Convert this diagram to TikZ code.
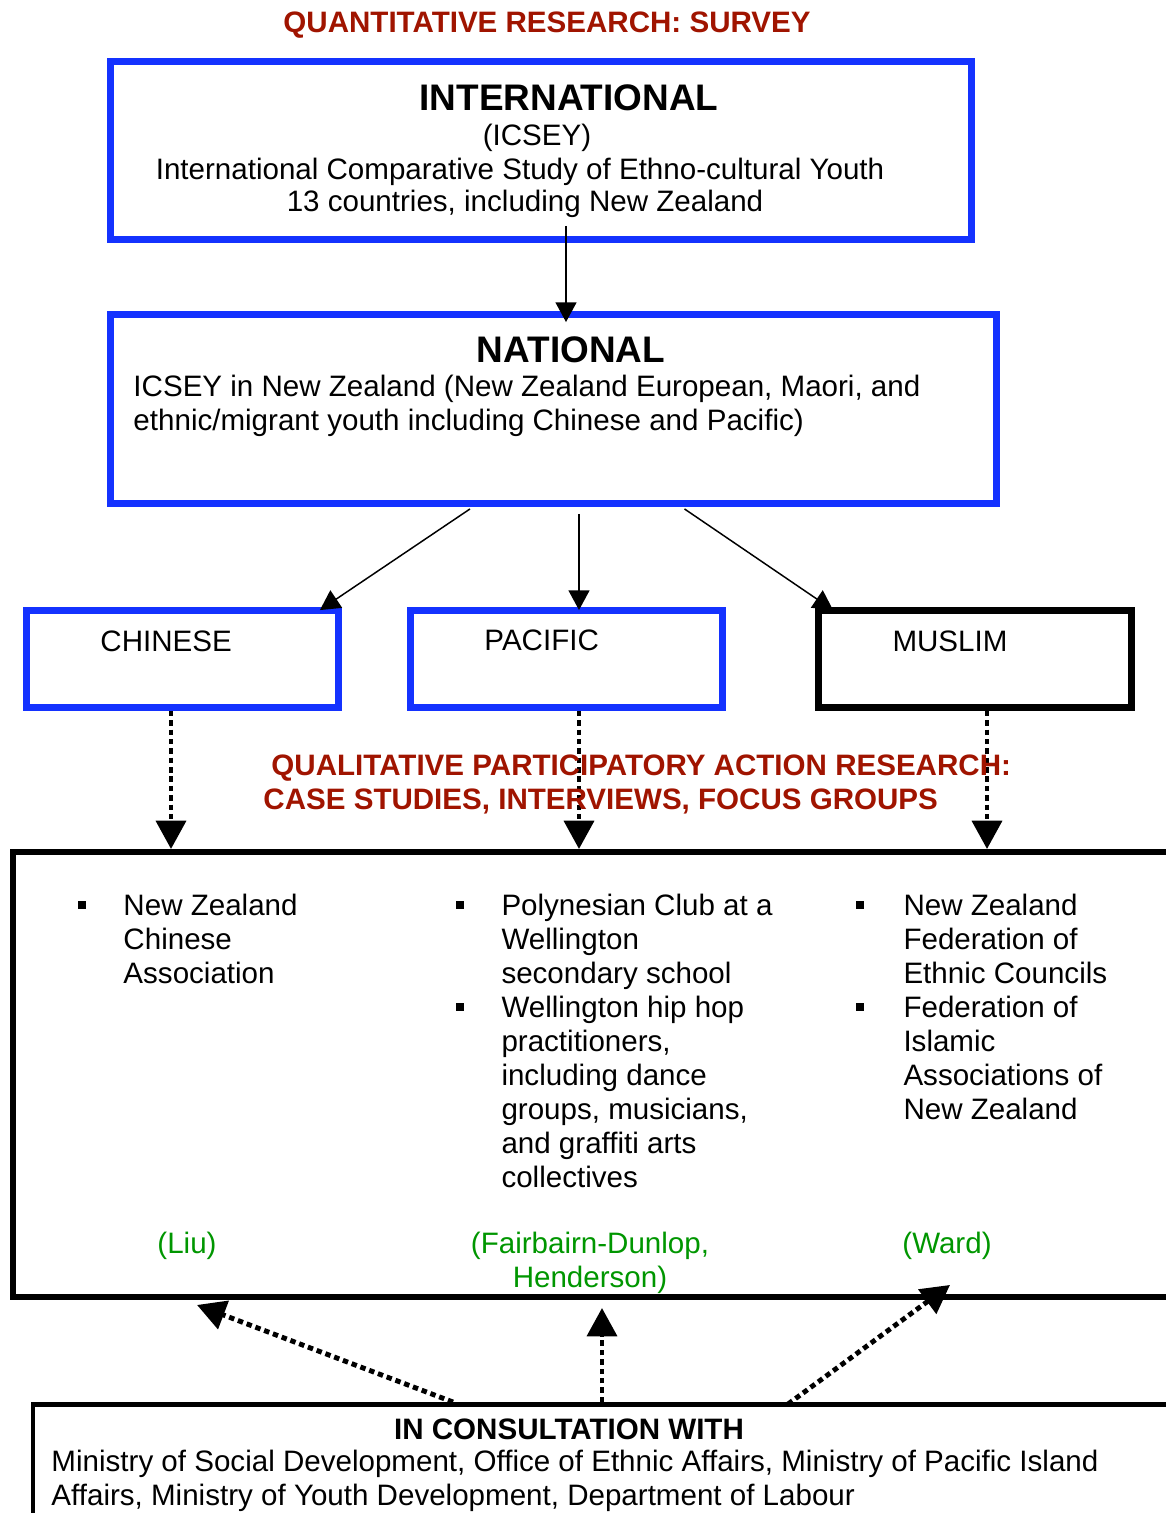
\documentclass[tikz,border=0pt]{standalone}
\usepackage{fontspec}
\setmainfont{Liberation Sans}
\usetikzlibrary{calc,arrows.meta}
\newlength\px
\setlength\px{0.406pt}
\definecolor{boxblue}{RGB}{20,50,255}
\definecolor{headred}{RGB}{160,20,0}
\definecolor{namegreen}{RGB}{0,150,0}

\begin{document}
\begin{tikzpicture}[x=0.406pt,y=-0.406pt,
	bluebox/.style={draw=boxblue,line width=3pt,inner sep=0pt},
	blackbox/.style={draw=black,line width=3pt,inner sep=0pt},
	body/.style={inner sep=0pt,font=\fontsize{12}{13.8}\selectfont,align=left},
	bigtitle/.style={inner sep=0pt,font=\fontsize{15}{18}\selectfont\bfseries},
	redhead/.style={inner sep=0pt,text=headred,font=\fontsize{12}{13.8}\selectfont\bfseries},
	author/.style={body,text=namegreen,align=center},
	bulletsq/.style={fill=black,inner sep=0pt,minimum size=3.2pt},
	thinarrow/.style={-{Triangle[length=8pt,width=8.5pt]},line width=0.6pt},
	dotarrow/.style={-{Triangle[length=11.5pt,width=12pt]},line width=2pt,dash pattern=on 2.2pt off 1.6pt}]
\useasboundingbox (0,0) rectangle (1166,1513);

                            	\node [redhead] (quant) at (547,25) {QUANTITATIVE RESEARCH: SURVEY};
% international / national
\node [bluebox,minimum width=860.5*\px,minimum height=177.5*\px] (intl) at (541,150.5) {};
                            	\node [bigtitle] (intltitle) at (569,98) {INTERNATIONAL};
                            	\node [body] (intlabbr) at (537,138) {(ICSEY)};
                            	\node [body] (intltext) at (520,172) {International Comparative Study of Ethno-cultural Youth};
                            	\node [body] (intlcount) at (525,204) {13 countries, including New Zealand};
\node [bluebox,minimum width=885.5*\px,minimum height=188.5*\px] (nat) at (553.5,409) {};
                            	\node [bigtitle] (nattitle) at (571,350) {NATIONAL};
                            	\node [body,anchor=west] (nattext) at (133,406) {ICSEY in New Zealand (New Zealand European, Maori, and\\ethnic/migrant youth including Chinese and Pacific)};
% groups
\node [bluebox,minimum width=311.5*\px,minimum height=96.5*\px] (chin) at (182.5,659) {};
\node [bluebox,minimum width=311.5*\px,minimum height=96.5*\px] (pac) at (566.5,659) {};
\node [blackbox,minimum width=312.5*\px,minimum height=96.5*\px] (mus) at (975,659) {};
                            	\node [body,anchor=west] (chintext) at (100,641) {CHINESE};
                            	\node [body,anchor=west] (pactext) at (484,640) {PACIFIC};
                            	\node [body,anchor=west] (mustext) at (892,641) {MUSLIM};
\draw [thinarrow] ($(intl.south)+(25,-17)$) -- ($(nat.north)+(12.5,11)$);
\draw [thinarrow] ($(nat.south)+(-83.5,2)$) -- ($(chin.north east)+(-22,3)$);
\draw [thinarrow] ($(nat.south)+(25.5,7)$) -- ($(pac.north)+(12.5,3)$);
\draw [thinarrow] ($(nat.south)+(131,2)$) -- ($(mus.north west)+(18,3)$);
% case studies
\node [blackbox,line width=2.4pt,minimum width=1187*\px,minimum height=445*\px] (cases) at (606.5,1074.5) {};
\coordinate (chindot) at ($(chin.south)+(-11.5,0)$);
\coordinate (pacdot) at ($(pac.south)+(12.5,0)$);
\coordinate (musdot) at ($(mus.south)+(12,0)$);
\draw [dotarrow] (chindot) -- (chindot |- cases.north);
\draw [dotarrow] (pacdot) -- (pacdot |- cases.north);
\draw [dotarrow] (musdot) -- (musdot |- cases.north);
                            	\node [redhead,anchor=west] (qualone) at (271,768) {QUALITATIVE PARTICIPATORY ACTION RESEARCH:};
                            	\node [redhead,anchor=west] (qualtwo) at (263,801) {CASE STUDIES, INTERVIEWS, FOCUS GROUPS};
\foreach \bx/\by [count=\i] in {82/905,460/905,460/1007,860/905,860/1007}
	\node [bulletsq] (bullet\i) at (\bx,\by) {};
                            	\node [body,anchor=west] (itemnzca) at (123,939) {New Zealand\\Chinese\\Association};
                            	\node [body,anchor=west] (itempoly) at (501,942) {Polynesian Club at a\\Wellington\\secondary school};
                            	\node [body,anchor=west] (itemhiphop) at (501,1092) {Wellington hip hop\\practitioners,\\including dance\\groups, musicians,\\and graffiti arts\\collectives};
                            	\node [body,anchor=west] (itemfedec) at (903,939) {New Zealand\\Federation of\\Ethnic Councils};
                            	\node [body,anchor=west] (itemfiam) at (903,1057.5) {Federation of\\Islamic\\Associations of\\New Zealand};
                            	\node [author] (liu) at (187,1246) {(Liu)};
                            	\node [author] (fairbairn) at (590,1263) {(Fairbairn-Dunlop,\\Henderson)};
                            	\node [author] (ward) at (947,1246) {(Ward)};
% consultation
\node [blackbox,line width=2pt,minimum width=1167*\px,minimum height=155.5*\px] (consult) at (616.5,1482.25) {};
                            	\node [body,font=\fontsize{12}{13.8}\selectfont\bfseries] (consulttitle) at (569,1429) {IN CONSULTATION WITH};
                            	\node [body,anchor=west] (consulttext) at (51,1480.5) {Ministry of Social Development, Office of Ethnic Affairs, Ministry of Pacific Island\\Affairs, Ministry of Youth Development, Department of Labour};
\draw [dotarrow] ($(consult.north)+(-163.5,0)$) -- ($(cases.south)+(-409.5,5)$);
\draw [dotarrow] ($(consult.north)+(-14.5,0)$) -- ($(cases.south)+(-4.5,8)$);
\draw [dotarrow] ($(consult.north)+(171.5,2)$) -- ($(cases.south)+(343.5,-15)$);
\end{tikzpicture}
\end{document}
